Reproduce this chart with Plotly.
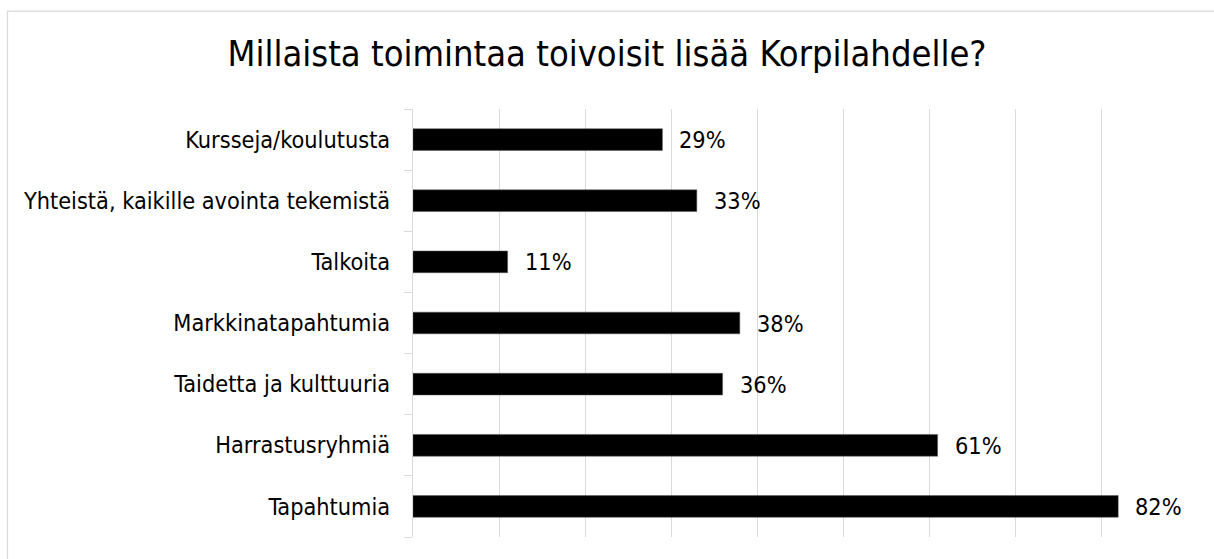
import plotly.graph_objects as go

# survey answers, listed bottom-to-top as plotly draws them
categories = [
    "Tapahtumia",
    "Harrastusryhmiä",
    "Taidetta ja kulttuuria",
    "Markkinatapahtumia",
    "Talkoita",
    "Yhteistä, kaikille avointa tekemistä",
    "Kursseja/koulutusta",
]
shares = [82, 61, 36, 38, 11, 33, 29]
labels = [f"{v}%" for v in shares]
grid_ticks = [0, 10, 20, 30, 40, 50, 60, 70, 80, 90]

FONT = "DejaVu Sans Condensed, Tahoma, DejaVu Sans, sans-serif"
GRID = "#d9d9d9"

fig = go.Figure()

fig.add_trace(
    go.Bar(
        x=shares,
        y=categories,
        orientation="h",
        marker=dict(color="#000000", line=dict(color="#595959", width=0.5)),
        hoverinfo="skip",
    )
)

# value labels to the right of each bar
for v, c, t in zip(shares, categories, labels):
    fig.add_annotation(
        x=v, y=c, text=t, showarrow=False,
        xanchor="left", yanchor="middle", xshift=15,
        font=dict(family=FONT, size=23.3, color="#000000"),
    )

# chart border (Excel chart area)
fig.add_shape(
    type="rect", xref="paper", yref="paper",
    x0=-0.5239, x1=1.1, y0=-0.2, y1=1.2288,
    line=dict(color=GRID, width=1.2), layer="below",
)

fig.update_layout(
    width=1214,
    height=559,
    margin=dict(l=413, r=27, t=109, b=22),
    paper_bgcolor="white",
    plot_bgcolor="white",
    showlegend=False,
    bargap=0.645,
    title=dict(
        text="Millaista toimintaa toivoisit lisää Korpilahdelle?",
        x=0.5, xref="container", xanchor="center",
        y=1 - 53 / 559, yref="container", yanchor="middle",
        font=dict(family=FONT, size=36, color="#000000"),
    ),
    xaxis=dict(
        range=[0, 90],
        tickvals=grid_ticks,
        showticklabels=False,
        showgrid=True,
        gridcolor=GRID,
        gridwidth=1.3,
        zeroline=False,
        showline=False,
        fixedrange=True,
    ),
    yaxis=dict(
        type="category",
        showline=True,
        linecolor=GRID,
        linewidth=1.3,
        ticks="outside",
        tickson="boundaries",
        ticklen=8,
        tickcolor=GRID,
        ticklabelstandoff=17,
        showgrid=False,
        tickfont=dict(family=FONT, size=23.3, color="#000000"),
        fixedrange=True,
    ),
)

fig.write_html(
    "out.html",
    config={"displayModeBar": False},
    post_script="document.body.style.margin='0';",
)
